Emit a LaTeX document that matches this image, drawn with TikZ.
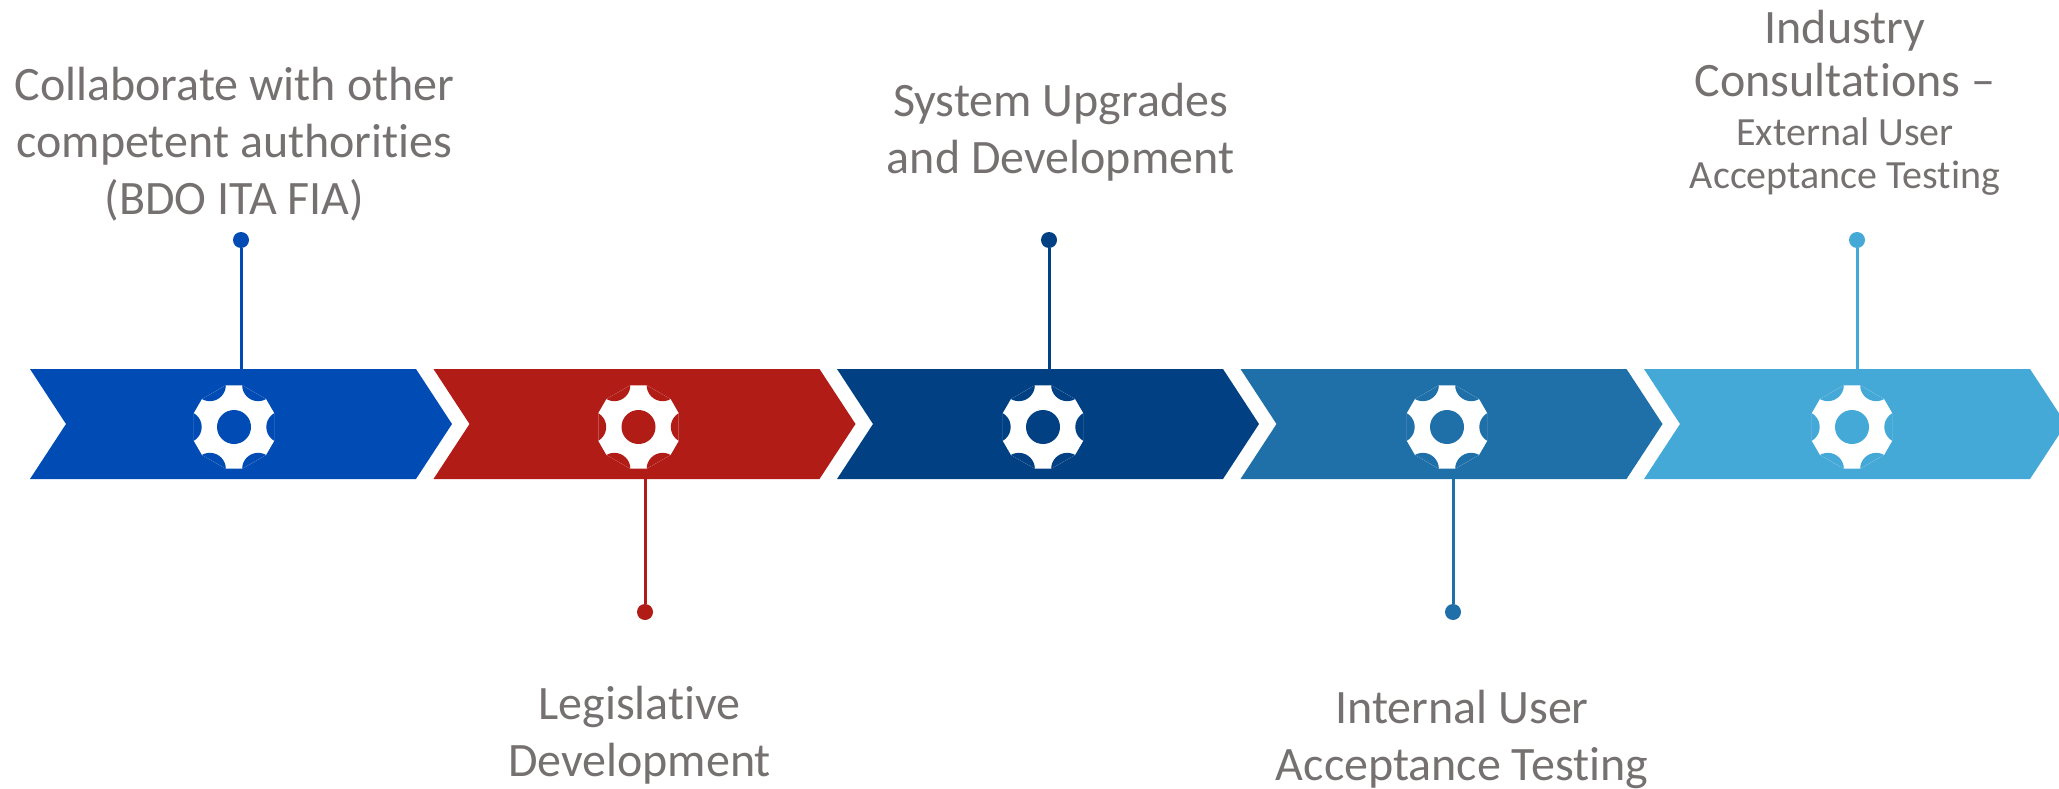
\documentclass[tikz,border=0pt]{standalone}
\usepackage{fontspec}
\setmainfont{Carlito}[Ligatures=NoCommon]
\usepackage{tikz}
\definecolor{stepA}{HTML}{004BB4}
\definecolor{stepB}{HTML}{B11C17}
\definecolor{stepC}{HTML}{004083}
\definecolor{stepD}{HTML}{1F6FA8}
\definecolor{stepE}{HTML}{45A9D8}
\definecolor{txtgray}{HTML}{767171}
\tikzset{pinline/.style={
    line width=3pt},
  pinhead/.style={
    circle, inner sep=0pt, minimum size=16pt},
  caption/.style={
    text=txtgray, align=center, inner sep=0pt, anchor=base,
    font=\fontsize{48}{57}\selectfont},
  gearicon/.pic={
    \begin{scope}
      \clip (19:42.5) -- (41:42.5) -- (79:42.5) -- (101:42.5) -- (139:42.5) -- (161:42.5)
        -- (199:42.5) -- (221:42.5) -- (259:42.5) -- (281:42.5) -- (319:42.5) -- (341:42.5) -- cycle;
      \fill[white] (-50,-50) rectangle (50,50);
      \fill[#1] (0:48.3) circle[radius=16pt] (60:48.3) circle[radius=16pt]
        (120:48.3) circle[radius=16pt] (180:48.3) circle[radius=16pt]
        (240:48.3) circle[radius=16pt] (300:48.3) circle[radius=16pt];
    \end{scope}
    \fill[#1] (0,0) circle[radius=17pt];}}

\begin{document}
\begin{tikzpicture}[x=1pt,y=-1pt]
\useasboundingbox (0,0) rectangle (2059,789);

\fill[stepA] (30,369) -- ++(386,0) -- ++(36,55) -- ++(-36,55) -- ++(-386,0) -- ++(36,-55) -- cycle;
\fill[stepB] (433.5,369) -- ++(386,0) -- ++(36,55) -- ++(-36,55) -- ++(-386,0) -- ++(36,-55) -- cycle;
\fill[stepC] (837,369) -- ++(386,0) -- ++(36,55) -- ++(-36,55) -- ++(-386,0) -- ++(36,-55) -- cycle;
\fill[stepD] (1240.5,369) -- ++(386,0) -- ++(36,55) -- ++(-36,55) -- ++(-386,0) -- ++(36,-55) -- cycle;
\fill[stepE] (1644,369) -- ++(386,0) -- ++(36,55) -- ++(-36,55) -- ++(-386,0) -- ++(36,-55) -- cycle;

\pic at (234,427) {gearicon=stepA};
\pic at (638.5,427) {gearicon=stepB};
\pic at (1043,427) {gearicon=stepC};
\pic at (1447,427) {gearicon=stepD};
\pic at (1852,427) {gearicon=stepE};

\coordinate (e1) at (241,369);
\coordinate (e2) at (645,479);
\coordinate (e3) at (1049,369);
\coordinate (e4) at (1453,479);
\coordinate (e5) at (1857,369);

\node[pinhead, fill=stepA] (d1) at (241,240) {};
\node[pinhead, fill=stepB] (d2) at (645,612) {};
\node[pinhead, fill=stepC] (d3) at (1049,240) {};
\node[pinhead, fill=stepD] (d4) at (1453,612) {};
\node[pinhead, fill=stepE] (d5) at (1857,240) {};
\draw[pinline, stepA] (d1) -- (e1);
\draw[pinline, stepB] (d2) -- (e2);
\draw[pinline, stepC] (d3) -- (e3);
\draw[pinline, stepD] (d4) -- (e4);
\draw[pinline, stepE] (d5) -- (e5);

\node[caption] (t1) at (234.5,214.3) {Collaborate with other\\competent authorities\\(BDO ITA FIA)};
\node[caption] (t2) at (639.5,776.7) {Legislative\\Development};
\node[caption] (t3) at (1060.5,173.3) {System Upgrades\\and Development};
\node[caption] (t4) at (1462,780) {Internal User\\Acceptance Testing};
\node[caption, font=\fontsize{40}{43}\selectfont] (t5) at (1845,188.3)
  {{\fontsize{48}{57}\selectfont Industry}\\[10pt]{\fontsize{48}{57}\selectfont Consultations –}\\[5.6pt]External User\\Acceptance Testing};
\end{tikzpicture}
\end{document}
